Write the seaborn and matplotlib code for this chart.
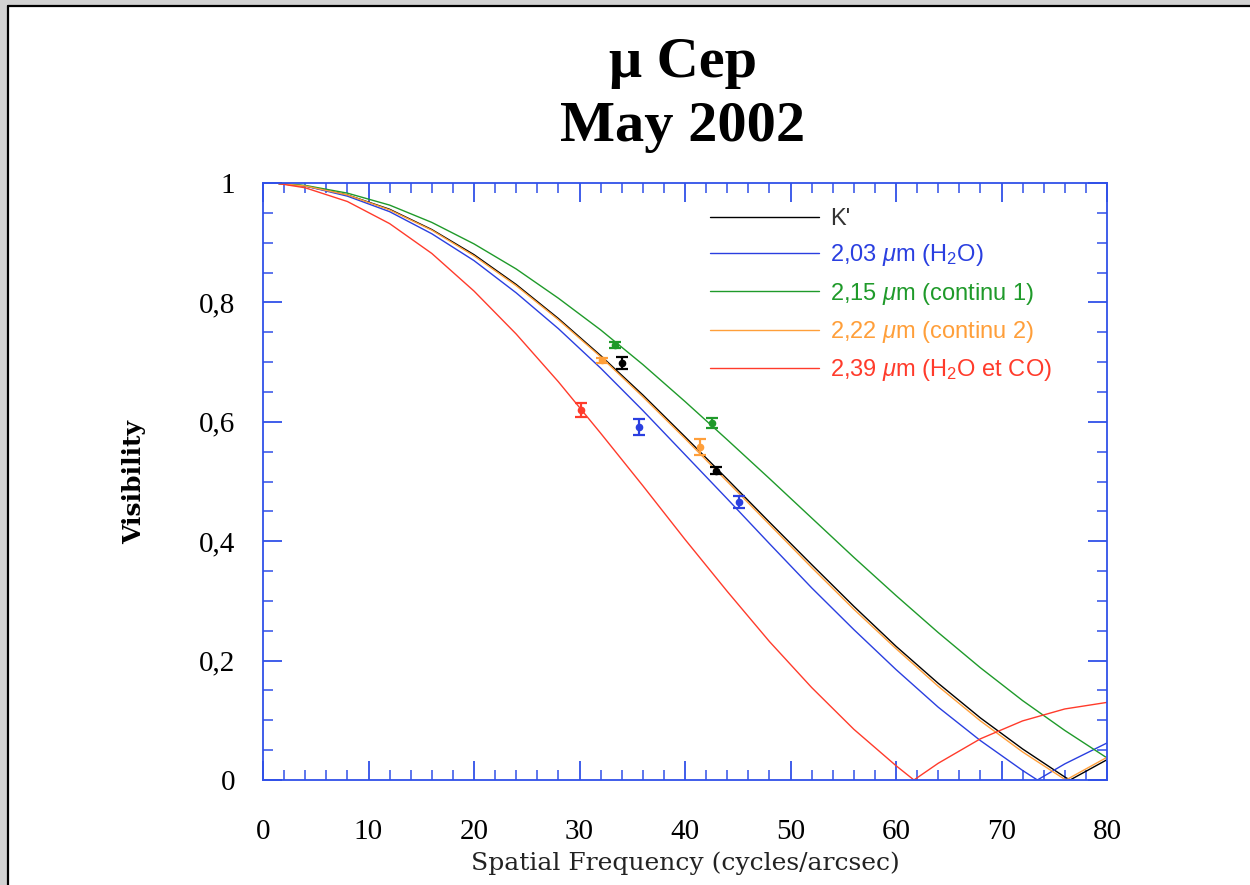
import numpy as np
import pandas as pd
import matplotlib
matplotlib.use("Agg")
import matplotlib.pyplot as plt
from matplotlib.lines import Line2D
from matplotlib.patches import Rectangle
from matplotlib.ticker import MultipleLocator, FuncFormatter
import seaborn as sns

# ---------------- data ----------------
bands = ["K'", "2,03", "2,15", "2,22", "2,39"]
labels = ["K'",
          r"2,03 $\mathit{\mu}$m (H$_2$O)",
          r"2,15 $\mathit{\mu}$m (continu 1)",
          r"2,22 $\mathit{\mu}$m (continu 2)",
          r"2,39 $\mathit{\mu}$m (H$_2$O et CO)"]
colors = ["#000000", "#2a3fe0", "#1f9a2a", "#ff9f3a", "#ff3b2b"]

freq_k = [1.5, 4, 8, 12, 16, 20, 24, 28, 32, 36, 40, 44, 48, 52, 56, 60, 64, 68, 72, 76, 76.5, 80]
vis_k = [0.999, 0.995, 0.980, 0.956, 0.922, 0.880, 0.830, 0.773, 0.711, 0.645, 0.575, 0.504,
         0.432, 0.361, 0.291, 0.224, 0.162, 0.104, 0.052, 0.005, 0.0, 0.034]

freq_203 = [1.5, 4, 8, 12, 16, 20, 24, 28, 32, 36, 40, 44, 48, 52, 56, 60, 64, 68, 72, 73.4, 76, 80]
vis_203 = [0.999, 0.995, 0.978, 0.952, 0.915, 0.870, 0.816, 0.756, 0.690, 0.619, 0.545, 0.471,
           0.396, 0.322, 0.252, 0.185, 0.122, 0.066, 0.016, 0.0, 0.027, 0.062]

freq_215 = [1.5, 4, 8, 12, 16, 20, 24, 28, 32, 36, 40, 44, 48, 52, 56, 60, 64, 68, 72, 76, 80]
vis_215 = [0.999, 0.996, 0.983, 0.963, 0.934, 0.898, 0.856, 0.807, 0.754, 0.696, 0.634, 0.570,
           0.505, 0.439, 0.373, 0.309, 0.247, 0.188, 0.133, 0.083, 0.037]

freq_222 = [1.5, 4, 8, 12, 16, 20, 24, 28, 32, 36, 40, 44, 48, 52, 56, 60, 64, 68, 72, 76, 76.1, 80]
vis_222 = [0.999, 0.995, 0.980, 0.955, 0.921, 0.878, 0.828, 0.771, 0.709, 0.642, 0.572, 0.500,
           0.428, 0.356, 0.286, 0.220, 0.157, 0.099, 0.047, 0.001, 0.0, 0.038]

freq_239 = [1.5, 4, 8, 12, 16, 20, 24, 28, 32, 36, 40, 44, 48, 52, 56, 60, 61.7, 64, 68, 72, 76, 80]
vis_239 = [0.999, 0.992, 0.969, 0.932, 0.882, 0.819, 0.747, 0.667, 0.581, 0.493, 0.403, 0.316,
           0.232, 0.155, 0.085, 0.024, 0.0, 0.028, 0.069, 0.099, 0.119, 0.130]

# measured points
obs_band = ["2,39", "2,22", "2,15", "K'", "2,03", "2,22", "2,15", "K'", "2,03"]
obs_freq = [30.1, 32.1, 33.4, 34.0, 35.6, 41.4, 42.6, 42.9, 45.1]
obs_vis = [0.620, 0.703, 0.728, 0.699, 0.591, 0.558, 0.598, 0.518, 0.465]
obs_err = [0.012, 0.004, 0.005, 0.010, 0.013, 0.014, 0.009, 0.006, 0.010]

x_ticks = [0, 10, 20, 30, 40, 50, 60, 70, 80]
y_ticks = [0, 0.2, 0.4, 0.6, 0.8, 1.0]

# ---------------- build ----------------
curves = {"K'": (freq_k, vis_k), "2,03": (freq_203, vis_203), "2,15": (freq_215, vis_215),
          "2,22": (freq_222, vis_222), "2,39": (freq_239, vis_239)}
rows = []
for b in bands:
    fx, vy = curves[b]
    for f, v in zip(fx, vy):
        rows.append({"freq": f, "vis": v, "band": b})
df = pd.DataFrame(rows)
obs = pd.DataFrame({"band": obs_band, "freq": obs_freq, "vis": obs_vis, "err": obs_err})
palette = dict(zip(bands, colors))

sns.set_theme(style="white")
plt.rcParams["font.family"] = ["Liberation Serif", "DejaVu Serif"]
plt.rcParams["text.color"] = "black"
plt.rcParams["axes.labelcolor"] = "black"
plt.rcParams["mathtext.fontset"] = "custom"
plt.rcParams["mathtext.rm"] = "Liberation Sans"
plt.rcParams["mathtext.it"] = "Liberation Sans:italic"

fig = plt.figure(figsize=(12.5, 8.85), dpi=100)
fig.patch.set_facecolor("white")
ax = fig.add_axes([263 / 1250, 1 - 780 / 885, (1107 - 263) / 1250, (780 - 183) / 885])

sns.lineplot(data=df, x="freq", y="vis", hue="band", palette=palette, hue_order=bands,
             sort=False, estimator=None, legend=False, linewidth=1.0, ax=ax)

for b in bands:
    sub = obs[obs.band == b]
    ax.errorbar(sub.freq, sub.vis, yerr=sub.err, fmt="o", color=palette[b], ms=4.5,
                elinewidth=1.6, capsize=4.5, capthick=1.6, zorder=5)

ax.set_xlim(0, 80)
ax.set_ylim(0, 1)
ax.set_xticks(x_ticks)
ax.set_yticks(y_ticks)
ax.xaxis.set_minor_locator(MultipleLocator(2))
ax.yaxis.set_minor_locator(MultipleLocator(0.05))
fmt = FuncFormatter(lambda v, p: f"{v:g}".replace(".", ","))
ax.xaxis.set_major_formatter(fmt)
ax.yaxis.set_major_formatter(fmt)

spine_col = "#3050e8"
for s in ax.spines.values():
    s.set_color(spine_col)
    s.set_linewidth(1.3)
ax.tick_params(which="both", direction="in", top=True, right=True, bottom=True, left=True,
               color=spine_col, labelcolor="black", labelsize=21)
ax.tick_params(which="major", length=14, width=1.3)
ax.tick_params(which="minor", length=7, width=1.1)
ax.tick_params(axis="x", which="major", pad=28)
ax.tick_params(axis="y", which="major", pad=20)
for lab in ax.get_xticklabels() + ax.get_yticklabels():
    lab.set_fontfamily(["Liberation Serif"])

ax.set_xlabel("Spatial Frequency (cycles/arcsec)", fontsize=18, family=["DejaVu Serif"],
              labelpad=5, color="#222222")
ax.set_ylabel("Visibility", fontsize=18, family=["DejaVu Serif"], fontweight="bold",
              labelpad=38, color="black")

fig.text(683 / 1250, 1 - 95 / 885, "\u03bc Cep\nMay 2002", ha="center", va="center",
         fontsize=42, fontweight="bold", family=["Liberation Serif", "DejaVu Serif"],
         linespacing=1.32, color="black")

handles = [Line2D([], [], color=c, lw=1.0) for c in colors]
leg = ax.legend(handles, labels, loc="upper left", bbox_to_anchor=(0.5296, 0.958),
                frameon=False, handlelength=4.6, handletextpad=0.5,
                labelspacing=0.52, borderpad=0, borderaxespad=0,
                prop={"family": ["Liberation Sans"], "size": 17})
for t, c in zip(leg.get_texts(), colors):
    t.set_color(c if c != "#000000" else "#333333")

# window frame of the screenshot
fig.add_artist(Rectangle((0, 1 - 5 / 885), 1, 5 / 885, transform=fig.transFigure,
                         facecolor="#d2d2d2", edgecolor="none"))
fig.add_artist(Rectangle((0, 0), 7 / 1250, 1, transform=fig.transFigure,
                         facecolor="#d2d2d2", edgecolor="none"))
fig.add_artist(Line2D([7.5 / 1250, 1], [1 - 5.5 / 885, 1 - 5.5 / 885], transform=fig.transFigure,
                      color="black", lw=1.6))
fig.add_artist(Line2D([7.5 / 1250, 7.5 / 1250], [0, 1 - 5.5 / 885], transform=fig.transFigure,
                      color="black", lw=1.6))

fig.savefig("out.png", dpi=100)
